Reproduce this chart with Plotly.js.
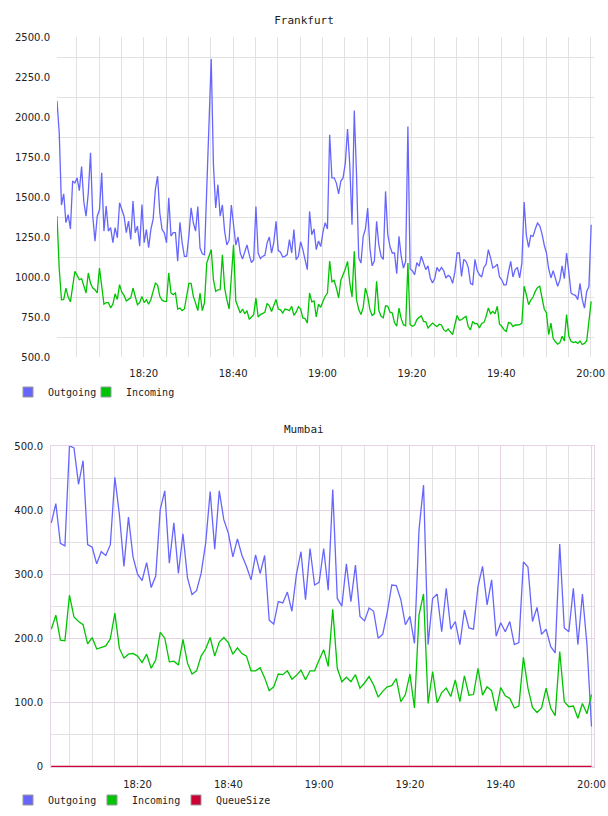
<!DOCTYPE html>
<html><head><meta charset="utf-8">
<script src="https://cdn.plot.ly/plotly-3.0.1.min.js"></script>
<style>html,body{margin:0;padding:0;background:#fff;}#chart{width:608px;height:816px;}</style>
</head><body><div id="chart"></div>
<script>
// ---------- data ----------
const frankfurtStart = '2024-01-01 18:00:36';
const frankfurtStepSec = 30;
const frankfurtOutgoing = [2102,1900,1450,1520,1340,1390,1300,1600,1588,1620,1540,1690,1470,1380,1526,1776,1380,1224,1380,1420,1651,1287,1443,1287,1308,1214,1308,1245,1464,1422,1380,1277,1350,1235,1474,1277,1318,1193,1453,1214,1297,1183,1297,1360,1547,1630,1400,1297,1277,1214,1495,1256,1277,1277,1098,1342,1214,1129,1129,1256,1432,1339,1287,
1441,1181,1145,1139,1550,1921,2362,1700,1431,1577,1380,1450,1285,1200,1230,1450,1330,1200,1250,1150,1112,1150,1200,1140,1090,1108,1441,1150,1115,1129,1135,1212,1250,1150,1215,1348,1165,1155,1125,1129,1140,1233,1150,1296,1108,1129,1220,1171,1108,1046,1410,1264,1300,1171,1225,1190,1280,1340,1300,1889,
1620,1620,1587,1520,1600,1619,1712,1925,1700,1327,2041,1650,1119,1087,1254,1300,1431,1181,1070,1100,1348,1200,1129,1110,1535,1264,1190,1150,1150,1020,1254,1130,1056,1098,1941,1050,1040,1014,1090,1067,1130,1080,1046,1070,994,962,990,1060,1035,1060,1040,994,1010,1000,960,1030,1150,
1150,1004,1110,1098,1060,960,952,1110,1040,1014,1000,1060,1080,1171,1119,1056,1065,1080,1000,983,950,952,1030,1098,1000,1046,1060,994,1087,1469,1260,1185,1260,1254,1300,1337,1320,1270,1200,1150,1050,994,1040,990,942,980,1070,990,1150,1030,900,890,885,858,960,860,806,910,940,1327];
const frankfurtIncoming = [1379,1050,858,860,931,875,845,950,1035,1010,983,990,950,900,1025,960,931,920,900,1056,942,830,840,840,806,830,895,860,952,905,885,850,860,870,931,880,827,840,879,840,858,830,860,910,962,950,879,855,848,848,1025,900,890,900,800,806,790,800,869,960,960,879,837,
790,900,790,840,1087,1130,1171,983,910,920,921,1139,930,858,800,1000,1202,850,810,775,800,770,790,735,750,765,869,750,765,770,780,835,820,785,820,860,800,795,775,800,796,790,817,760,780,815,800,744,740,712,900,845,850,750,830,810,848,880,900,1100,
970,980,930,869,980,1010,1050,1098,962,875,1160,860,796,765,810,931,879,796,760,770,973,790,754,745,820,817,780,775,715,692,806,740,702,695,1087,702,692,700,733,748,756,723,720,681,700,712,700,690,705,700,671,660,675,655,640,700,760,
730,733,745,754,690,670,723,708,710,681,710,715,754,806,770,785,770,817,705,692,670,660,715,712,690,700,700,702,712,942,890,827,855,875,910,935,942,870,800,775,640,712,615,595,580,590,630,600,765,630,598,590,595,585,600,578,585,600,720,848];

const mumbaiStart = '2024-01-01 18:01:00';
const mumbaiStepSec = 60;
const mumbaiOutgoing = [380,410,348,344,500,497,440,477,346,342,316,335,329,346,451,393,312,389,327,300,290,318,279,297,401,430,317,380,301,363,294,268,274,301,348,429,339,430,385,364,327,355,329,312,291,330,301,329,228,222,257,255,272,242,300,335,
260,340,283,287,340,275,432,262,250,316,257,314,234,227,247,242,200,206,240,283,282,260,221,234,192,369,439,190,262,269,210,278,214,226,190,244,216,214,281,312,252,291,203,224,210,226,190,193,319,311,226,248,206,214,187,177,347,216,210,278,190,269,190,62];
const mumbaiIncoming = [214,236,197,196,267,233,226,221,191,201,183,185,188,199,239,184,169,175,176,172,162,175,153,166,209,200,163,164,158,198,161,144,149,172,183,201,172,194,201,193,175,185,176,172,149,149,154,138,118,124,144,143,149,136,142,150,
135,149,149,166,182,156,245,153,132,139,132,143,122,130,140,127,108,117,124,126,137,101,112,144,91,236,269,98,148,99,115,122,109,135,101,141,111,112,153,111,124,118,86,123,110,106,91,94,170,122,92,84,91,122,91,79,179,101,93,94,75,98,82,112];
const mumbaiQueueSize = [0,0,0,0,0,0,0,0,0,0,0,0,0,0,0,0,0,0,0,0,0,0,0,0,0,0,0,0,0,0,0,0,0,0,0,0,0,0,0,0,0,0,0,0,0,0,0,0,0,0,0,0,0,0,0,0,0,0,0,0,
0,0,0,0,0,0,0,0,0,0,0,0,0,0,0,0,0,0,0,0,0,0,0,0,0,0,0,0,0,0,0,0,0,0,0,0,0,0,0,0,0,0,0,0,0,0,0,0,0,0,0,0,0,1,1,1,0,0,0,0];

const frankfurtYTicks = [500,750,1000,1250,1500,1750,2000,2250,2500];
const frankfurtYLabels = ['500.0','750.0','1000.0','1250.0','1500.0','1750.0','2000.0','2250.0','2500.0'];
const mumbaiYTicks = [0,100,200,300,400,500];
const mumbaiYLabels = ['0','100.0','200.0','300.0','400.0','500.0'];
const seriesNames = ['Outgoing','Incoming','QueueSize'];
const seriesColors = ['#6666ff','#00c400','#cc0033'];
const chartTitles = ['Frankfurt','Mumbai'];

// ---------- helpers ----------
function times(start, stepSec, n){
  const t0 = new Date(start.replace(' ','T')+'Z').getTime();
  const out = [];
  for(let i=0;i<n;i++){ out.push(new Date(t0+i*stepSec*1000).toISOString().replace('T',' ').slice(0,19)); }
  return out;
}
const W=608,H=816;
const px = v=>v/W, py = v=>1-v/H;
const fX = times(frankfurtStart, frankfurtStepSec, frankfurtOutgoing.length);
const mX = times(mumbaiStart, mumbaiStepSec, mumbaiOutgoing.length);

function line(x,y,i,xa,ya){ return {type:'scatter',mode:'lines',x:x,y:y,name:seriesNames[i],xaxis:xa,yaxis:ya,showlegend:false,hoverinfo:'skip',line:{color:seriesColors[i],width:1.3}}; }
function legendItem(i,xa,ya,lg){ return {type:'scatter',mode:'markers',x:[null],y:[null],name:seriesNames[i],xaxis:xa,yaxis:ya,legend:lg,hoverinfo:'skip',marker:{symbol:'square',size:10,color:seriesColors[i],line:{color:'#999',width:1}}}; }
// invisible trailing entry so the last legend label is not clipped
function legendSpacer(xa,ya,lg){ return {type:'scatter',mode:'markers',x:[null],y:[null],name:' ',xaxis:xa,yaxis:ya,legend:lg,hoverinfo:'skip',marker:{size:1,color:'rgba(0,0,0,0)',line:{width:0}}}; }

const traces = [
  line(fX,frankfurtOutgoing,0,'x','y'),
  line(fX,frankfurtIncoming,1,'x','y'),
  line(mX,mumbaiOutgoing,0,'x2','y2'),
  line(mX,mumbaiIncoming,1,'x2','y2'),
  line(mX,mumbaiQueueSize,2,'x2','y2'),
  legendItem(0,'x','y','legend'), legendItem(1,'x','y','legend'), legendSpacer('x','y','legend'),
  legendItem(0,'x2','y2','legend2'), legendItem(1,'x2','y2','legend2'), legendItem(2,'x2','y2','legend2'), legendSpacer('x2','y2','legend2')
];

const tickFont = {family:'DejaVu Sans',size:10,color:'#222'};
const grey = '#e2e2e2', pink = '#e8d2e8';
const xCommon = {type:'date',tickformat:'%H:%M',dtick:1200000,tick0:'2024-01-01 18:00:00',ticks:'',zeroline:false,tickfont:tickFont,fixedrange:true,ticklabelstandoff:9};
const legendFont = {family:'DejaVu Sans Mono',size:10,color:'#222'};

const layout = {
  width:W,height:H,margin:{l:0,r:0,t:0,b:0},paper_bgcolor:'#fff',plot_bgcolor:'#fff',
  title:{text:chartTitles[0],font:{family:'DejaVu Sans Mono',size:11,color:'#222'},x:0.5,xanchor:'center',xref:'paper',y:py(20),yanchor:'middle',yref:'paper'},
  showlegend:true,
  xaxis:Object.assign({},xCommon,{domain:[px(57),px(594)],anchor:'y',range:['2024-01-01 18:00:36','2024-01-01 20:00:44'],showgrid:true,gridcolor:grey,gridwidth:1,showline:false,
    minor:{dtick:300000,tick0:'2024-01-01 18:00:00',showgrid:true,gridcolor:grey,gridwidth:1}}),
  yaxis:{domain:[py(357),py(37)],anchor:'x',range:[500,2500],tickmode:'array',tickvals:frankfurtYTicks,ticktext:frankfurtYLabels,showgrid:false,zeroline:false,showline:false,ticks:'',tickfont:tickFont,fixedrange:true,ticklabelstandoff:6,
    minor:{tickmode:'linear',tick0:625,dtick:250,showgrid:true,gridcolor:grey,gridwidth:1}},
  xaxis2:Object.assign({},xCommon,{domain:[px(51),px(594)],anchor:'y2',range:['2024-01-01 18:00:56','2024-01-01 20:00:33'],showgrid:true,gridcolor:pink,gridwidth:1,showline:true,mirror:true,linecolor:pink,linewidth:1,ticklabelstandoff:8,
    minor:{dtick:300000,tick0:'2024-01-01 18:00:00',showgrid:true,gridcolor:grey,gridwidth:1}}),
  yaxis2:{domain:[py(767.3),py(446)],anchor:'x2',range:[-1.6,500],tickmode:'array',tickvals:mumbaiYTicks,ticktext:mumbaiYLabels,showgrid:true,gridcolor:pink,gridwidth:1,zeroline:false,showline:true,mirror:true,linecolor:pink,linewidth:1,ticks:'',tickfont:tickFont,fixedrange:true,ticklabelstandoff:5,
    minor:{tickmode:'linear',tick0:50,dtick:100,showgrid:true,gridcolor:grey,gridwidth:1}},
  legend:{orientation:'h',x:px(8),xanchor:'left',y:py(392),yanchor:'middle',font:legendFont,bgcolor:'rgba(0,0,0,0)',entrywidth:33,entrywidthmode:'pixels',itemclick:false,itemdoubleclick:false},
  legend2:{orientation:'h',x:px(8),xanchor:'left',y:py(800),yanchor:'middle',font:legendFont,bgcolor:'rgba(0,0,0,0)',entrywidth:39,entrywidthmode:'pixels',itemclick:false,itemdoubleclick:false},
  annotations:[{text:chartTitles[1],xref:'paper',yref:'paper',x:0.5,xanchor:'center',y:py(429),yanchor:'middle',showarrow:false,font:{family:'DejaVu Sans Mono',size:11,color:'#222'}}]
};

Plotly.newPlot('chart',traces,layout,{staticPlot:true,displayModeBar:false});
</script>
</body></html>
